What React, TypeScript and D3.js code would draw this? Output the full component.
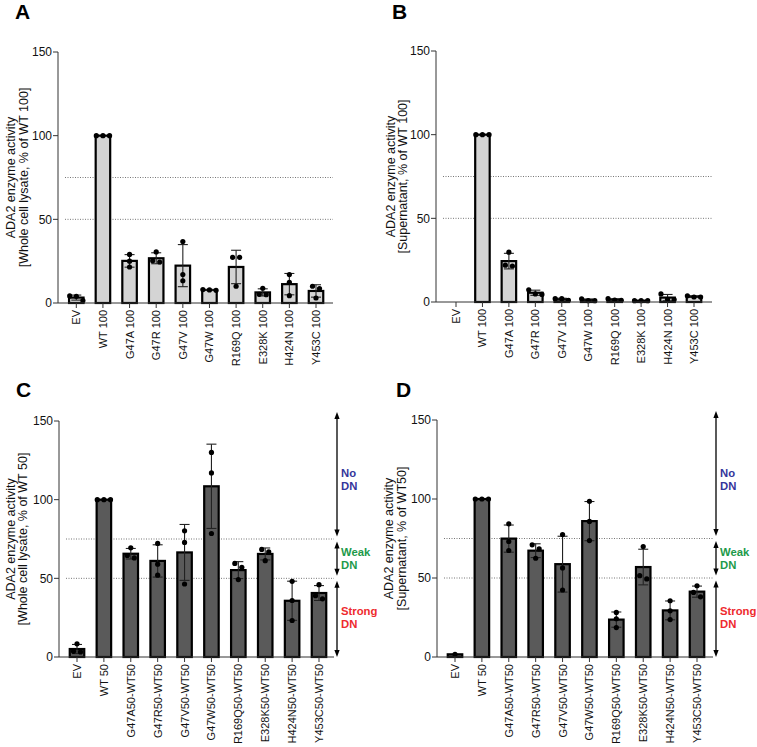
import React from "react";
import * as d3 from "d3";

// ---------- data ----------
const categoriesTop = ["EV", "WT 100", "G47A 100", "G47R 100", "G47V 100", "G47W 100", "R169Q 100", "E328K 100", "H424N 100", "Y453C 100"];
const categoriesBottom = ["EV", "WT 50", "G47A50-WT50", "G47R50-WT50", "G47V50-WT50", "G47W50-WT50", "R169Q50-WT50", "E328K50-WT50", "H424N50-WT50", "Y453C50-WT50"];

// replicate values per category
const valuesA = [
  [1.5, 4, 4.2], [100, 100, 100], [29, 25, 21.5], [30.5, 24.5, 25.2], [36.7, 17, 13.3],
  [7.6, 8, 7.8], [27.3, 27.3, 10], [8.8, 5, 5.2], [17, 12.4, 4.4], [10, 8.6, 3],
];
const valuesB = [
  [], [100, 100, 100], [29.8, 21.5, 22], [7.3, 4.5, 4.8], [2, 2, 1],
  [0.8, 1.9, 0.8], [1, 2, 1.2], [0.8, 0.8, 0.8], [4.8, 1.5, 1.6], [3, 3.7, 3],
];
const valuesC = [
  [8.4, 3.6, 3.2], [100, 100, 100], [69.4, 63, 64.5], [72.2, 59, 52], [80.2, 72.8, 46.4],
  [130, 117, 78.5], [59.5, 57, 49.2], [68.4, 66.9, 61.2], [48.1, 35.9, 23.2], [46, 39, 37],
];
const valuesD = [
  [1.7], [100, 100, 100], [84.3, 73.1, 67.4], [71, 68.4, 62.5], [77.5, 56.4, 42.4],
  [98.5, 85.8, 73.7], [28.2, 24.2, 18.6], [69.9, 49.4, 51.5], [35.6, 29.2, 23.7], [45.1, 38.1, 40.9],
];

const yTicks = [0, 50, 100, 150];
const thresholds = [50, 75];
const yLabelA = ["ADA2 enzyme activity", "[Whole cell lysate, % of WT 100]"];
const yLabelB = ["ADA2 enzyme activity", "[Supernatant, % of WT 100]"];
const yLabelC = ["ADA2 enzyme activity", "[Whole cell lysate, % of WT 50]"];
const yLabelD = ["ADA2 enzyme activity", "[Supernatant, % of WT50]"];

const zoneLabels = [["No", "DN"], ["Weak", "DN"], ["Strong", "DN"]];
const zoneColors = ["#35359b", "#1d9a4a", "#ee2a2e"];
const zoneRanges: [number, number][] = [[75, 150], [50, 75], [0, 50]];

const FONT = "'Liberation Sans', Arial, Helvetica, sans-serif";

type Geo = {
  axisX: number; right: number; top: number; bottom: number;
  c0: number; c1: number; labelX: [number, number];
  letterX: number; letterY: number;
};

function Panel({ letter, cats, values, fill, yLabel, geo, annotate }:
  { letter: string; cats: string[]; values: number[][]; fill: string; yLabel: string[]; geo: Geo; annotate: boolean }) {
  const y = d3.scaleLinear().domain([0, 150]).range([geo.bottom, geo.top]);
  const x = d3.scalePoint<string>().domain(cats).range([geo.c0, geo.c1]);
  const bw = 14.5;
  const r = 2.6;
  const yMid = (geo.top + geo.bottom) / 2;

  const marks = cats.map((c, i) => {
    const vals = values[i];
    if (!vals.length) return null;
    const cx = x(c)!;
    const mean = d3.mean(vals)!;
    const sd = vals.length > 1 ? d3.deviation(vals)! : 0;
    // spread overlapping dots horizontally
    const sorted = vals.map((v, k) => ({ v, k })).sort((a, b) => b.v - a.v);
    const groups: { v: number }[][] = [];
    sorted.forEach((p) => {
      const g = groups[groups.length - 1];
      if (g && Math.abs(y(g[g.length - 1].v) - y(p.v)) < 5.5) g.push(p);
      else groups.push([p]);
    });
    const dots: { x: number; y: number }[] = [];
    groups.forEach((g) => {
      const n = g.length;
      g.forEach((p, j) => {
        const off = n === 1 ? 0 : (j - (n - 1) / 2) * (n === 2 ? 7 : 6.6);
        dots.push({ x: cx + off, y: y(p.v) });
      });
    });
    return (
      <g key={c}>
        <rect x={cx - bw / 2} y={y(mean)} width={bw} height={Math.max(0, y(0) - y(mean))}
          fill={fill} stroke="#000" strokeWidth={2.2} />
        {sd > 0 && (
          <g stroke="#222" strokeWidth={1.1}>
            <line x1={cx} x2={cx} y1={y(mean + sd)} y2={y(Math.max(0, mean - sd))} />
            <line x1={cx - 5} x2={cx + 5} y1={y(mean + sd)} y2={y(mean + sd)} />
            <line x1={cx - 5} x2={cx + 5} y1={y(mean - sd)} y2={y(mean - sd)} />
          </g>
        )}
        {dots.map((d, k) => <circle key={k} cx={d.x} cy={d.y} r={r} fill="#000" />)}
      </g>
    );
  });

  const arrowX = geo.right + 3;
  const head = (xx: number, yy: number, dir: number) =>
    `M${xx},${yy} L${xx - 2.6},${yy + dir * 7} L${xx + 2.6},${yy + dir * 7} Z`;

  return (
    <g fontFamily={FONT}>
      <text x={geo.letterX} y={geo.letterY} fontSize={21} fontWeight="bold" fill="#000">{letter}</text>
      {/* threshold dotted lines */}
      {thresholds.map((t) => (
        <line key={t} x1={geo.axisX + 7} x2={geo.right} y1={y(t)} y2={y(t)}
          stroke="#777" strokeWidth={1} strokeDasharray="1,1.5" />
      ))}
      {marks}
      {/* axes */}
      <line x1={geo.axisX} x2={geo.axisX} y1={geo.top} y2={geo.bottom} stroke="#333" strokeWidth={1} />
      <line x1={geo.axisX} x2={geo.right} y1={geo.bottom} y2={geo.bottom} stroke="#333" strokeWidth={1} />
      {yTicks.map((t) => (
        <g key={t}>
          <line x1={geo.axisX - 5} x2={geo.axisX} y1={y(t)} y2={y(t)} stroke="#333" strokeWidth={1} />
          <text x={geo.axisX - 6} y={y(t)} dy="0.35em" textAnchor="end" fontSize={12} fill="#111">{t}</text>
        </g>
      ))}
      {cats.map((c) => (
        <g key={c}>
          <line x1={x(c)!} x2={x(c)!} y1={geo.bottom} y2={geo.bottom + 5} stroke="#333" strokeWidth={1} />
          <text transform={`translate(${x(c)!},${geo.bottom + 7}) rotate(-90)`} dy="0.36em"
            textAnchor="end" fontSize={11} fill="#111">{c}</text>
        </g>
      ))}
      {yLabel.map((l, i) => (
        <text key={i} transform={`translate(${geo.labelX[i]},${yMid}) rotate(-90)`} dy="0.35em"
          textAnchor="middle" fontSize={12.5} fill="#111">{l}</text>
      ))}
      {annotate && zoneRanges.map(([lo, hi], i) => {
        const yTop = hi === 150 ? y(hi) - 9 : y(hi) + 2.5;
        const yBot = lo === 0 ? y(lo) : y(lo) - 2.5;
        const yc = y((lo + hi) / 2);
        return (
          <g key={i}>
            <line x1={arrowX} x2={arrowX} y1={yTop + 3} y2={yBot - 3} stroke="#000" strokeWidth={1.3} />
            <path d={head(arrowX, yTop, 1)} fill="#000" />
            <path d={head(arrowX, yBot, -1)} fill="#000" />
            {zoneLabels[i].map((t, j) => (
              <text key={j} x={arrowX + 4} y={yc + (j === 0 ? -6.5 : 6.5)} dy="0.35em"
                fontSize={11.3} fontWeight="bold" fill={zoneColors[i]}>{t}</text>
            ))}
          </g>
        );
      })}
    </g>
  );
}

export default function App() {
  const geoA: Geo = { axisX: 58, right: 333, top: 52, bottom: 303, c0: 76.3, c1: 316, labelX: [11, 23.5], letterX: 15, letterY: 19 };
  const geoB: Geo = { axisX: 436, right: 712, top: 51, bottom: 302, c0: 456, c1: 694, labelX: [390.5, 403], letterX: 392, letterY: 19 };
  const geoC: Geo = { axisX: 59, right: 334, top: 421, bottom: 657, c0: 77, c1: 319, labelX: [10.5, 23], letterX: 16, letterY: 397 };
  const geoD: Geo = { axisX: 437, right: 713, top: 420, bottom: 657, c0: 455, c1: 697, labelX: [389, 402], letterX: 396, letterY: 397 };
  return (
    <svg width={757} height={747} style={{ position: "absolute", left: 0, top: 0, background: "#fff" }}>
      <rect width={757} height={747} fill="#fff" />
      <Panel letter="A" cats={categoriesTop} values={valuesA} fill="#d4d4d4" yLabel={yLabelA} geo={geoA} annotate={false} />
      <Panel letter="B" cats={categoriesTop} values={valuesB} fill="#d4d4d4" yLabel={yLabelB} geo={geoB} annotate={false} />
      <Panel letter="C" cats={categoriesBottom} values={valuesC} fill="#5a5a5a" yLabel={yLabelC} geo={geoC} annotate={true} />
      <Panel letter="D" cats={categoriesBottom} values={valuesD} fill="#5a5a5a" yLabel={yLabelD} geo={geoD} annotate={true} />
    </svg>
  );
}
